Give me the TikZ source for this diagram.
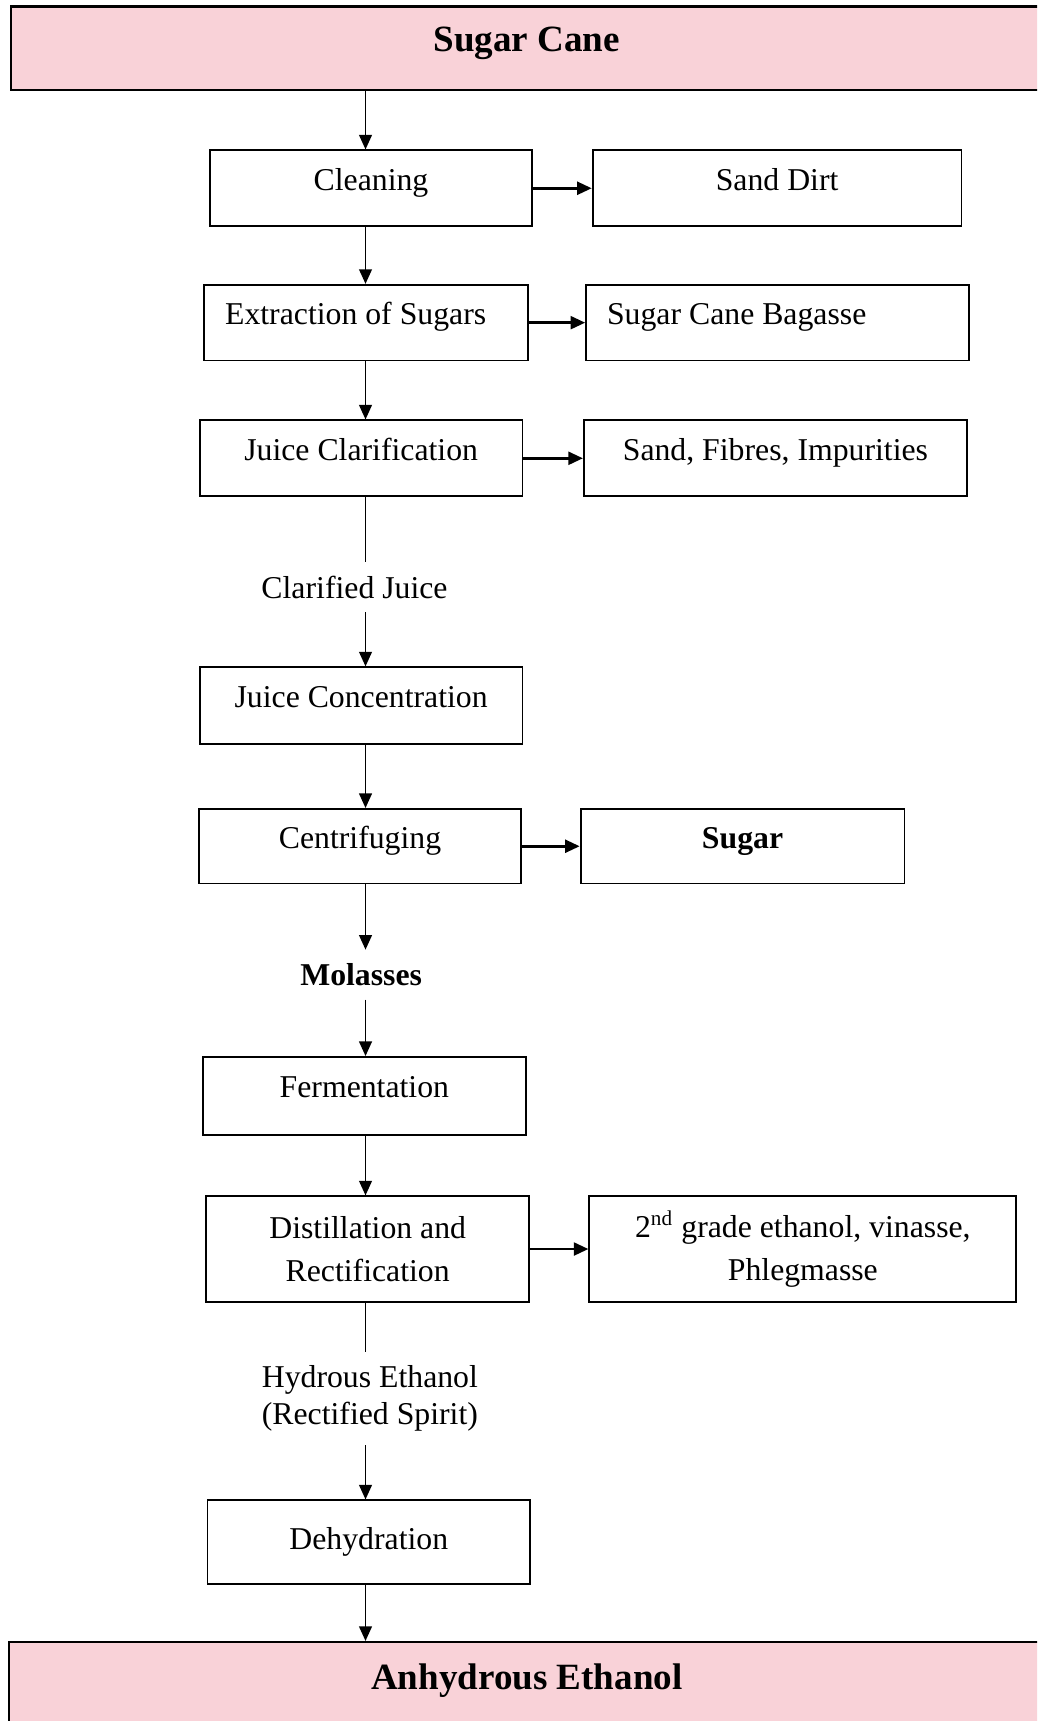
\documentclass[tikz,border=0pt]{standalone}
\usepackage{fontspec}
\setmainfont{Liberation Serif}
\usetikzlibrary{calc, positioning, arrows.meta}
\definecolor{canepink}{RGB}{249,210,216}
\tikzstyle{endpoint}=[draw, rectangle, fill=canepink, line width=0.8pt, inner sep=0pt, font=\bfseries\fontsize{14}{17}\selectfont, text height=10pt, text depth=7.5pt]
\tikzstyle{process}=[draw, rectangle, line width=0.7pt, inner sep=0pt, font=\fontsize{12}{16.2}\selectfont, minimum height=1.006cm, text height=8.5pt, text depth=7pt]
\tikzstyle{left process}=[process, inner xsep=7.9pt, align=flush left]
\tikzstyle{tall process}=[draw, rectangle, line width=0.7pt, inner sep=0pt, font=\fontsize{12}{16.2}\selectfont, align=center]
\tikzstyle{stream}=[inner xsep=0pt, inner ysep=5pt, font=\fontsize{12}{14.1}\selectfont, align=center]
\tikzstyle{flow}=[->, line width=0.7pt]
\tikzstyle{plain flow}=[line width=0.7pt]
\tikzstyle{side flow}=[->, line width=1.1pt]

\begin{document}
\begin{tikzpicture}[>={Triangle[length=5.5pt,width=4.8pt]}]
		\useasboundingbox (0,0) rectangle (13.774,-22.855);
		\clip (0,0) rectangle (13.774,-22.855);
		\coordinate (spine) at (4.854,0);
		\node[endpoint, minimum width=13.70cm, minimum height=1.108cm] (cane) at (6.997,-0.641) {Sugar Cane};
		\node[process, minimum width=4.285cm] (cleaning) at (4.927,-2.500) {Cleaning};
		\node[process, minimum width=4.898cm] (dirt) at (10.320,-2.500) {Sand Dirt};
		\node[left process, text width=106.5pt] (extraction) at (4.861,-4.285) {Extraction of Sugars};
		\node[left process, text width=128.9pt] (bagasse) at (10.327,-4.285) {Sugar Cane Bagasse};
		\node[process, minimum width=4.285cm] (clarification) at (4.796,-6.086) {Juice Clarification};
		\node[process, minimum width=5.087cm] (impurities) at (10.298,-6.086) {Sand, Fibres, Impurities};
		\node[stream] (juice) at (4.708,-7.798) {Clarified Juice};
		\node[process, minimum width=4.285cm, minimum height=1.020cm] (concentration) at (4.796,-9.372) {Juice Concentration};
		\node[process, minimum width=4.285cm, minimum height=0.991cm] (centrifuging) at (4.781,-11.238) {Centrifuging};
		\node[process, minimum width=4.300cm, minimum height=0.991cm, font=\bfseries\fontsize{12}{16.2}\selectfont] (sugar) at (9.861,-11.238) {Sugar};
		\node[stream, font=\bfseries\fontsize{12}{14.1}\selectfont] (molasses) at (4.796,-12.943) {Molasses};
		\node[process, minimum width=4.285cm, minimum height=1.035cm] (fermentation) at (4.839,-14.554) {Fermentation};
		\node[tall process, minimum width=4.285cm, minimum height=1.399cm] (distillation) at (4.883,-16.587) {Distillation and\\Rectification};
		\node[tall process, minimum width=5.670cm, minimum height=1.399cm] (residues) at (10.662,-16.587) {2\textsuperscript{nd} grade ethanol, vinasse,\\Phlegmasse};
		\node[stream] (hydrous) at (4.912,-18.570) {Hydrous Ethanol\\(Rectified Spirit)};
		\node[tall process, minimum width=4.285cm, minimum height=1.108cm] (dehydration) at (4.898,-20.479) {Dehydration};
		\node[endpoint, minimum width=13.76cm, minimum height=1.166cm] (ethanol) at (6.997,-22.389) {Anhydrous Ethanol};
		\path
		(cane.south -| spine) edge[flow] (cleaning.north -| spine)
		(cleaning.south -| spine) edge[flow] (extraction.north -| spine)
		(extraction.south -| spine) edge[flow] (clarification.north -| spine)
		(clarification.south -| spine) edge[plain flow] (juice.north -| spine)
		(juice.south -| spine) edge[flow] (concentration.north -| spine)
		(concentration.south -| spine) edge[flow] (centrifuging.north -| spine)
		(centrifuging.south -| spine) edge[flow] (molasses.north -| spine)
		(molasses.south -| spine) edge[flow] (fermentation.north -| spine)
		(fermentation.south -| spine) edge[flow] (distillation.north -| spine)
		(distillation.south -| spine) edge[plain flow] (hydrous.north -| spine)
		(hydrous.south -| spine) edge[flow] (dehydration.north -| spine)
		(dehydration.south -| spine) edge[flow] (ethanol.north -| spine)
		(cleaning) edge[side flow] (dirt)
		(extraction) edge[side flow] (bagasse)
		(clarification) edge[side flow] (impurities)
		(centrifuging) edge[side flow] (sugar)
		(distillation) edge[side flow] (residues);
	\end{tikzpicture}
\end{document}
